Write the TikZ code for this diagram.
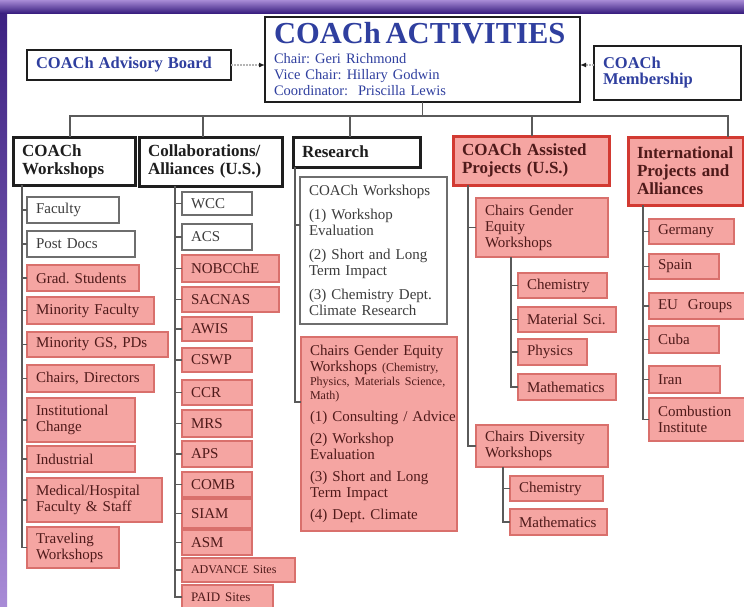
\documentclass[tikz,border=0pt]{standalone}
\usepackage{fontspec}
\setmainfont{Liberation Serif}
\usetikzlibrary{arrows.meta,calc}
\definecolor{ink}{HTML}{1E1E1E}
\definecolor{coachblue}{HTML}{2F3F9F}
\definecolor{pinkfill}{HTML}{F5A5A2}
\definecolor{pinkline}{HTML}{D9706C}
\definecolor{redline}{HTML}{D23A32}
\definecolor{maroon}{HTML}{4F1A1A}
\definecolor{greyline}{HTML}{6E6E6E}
\definecolor{greytext}{HTML}{3C3C3C}
\definecolor{wirec}{HTML}{5A5A5A}
\definecolor{plumdark}{HTML}{3A1F80}
\definecolor{plumlight}{HTML}{A88BD6}

\frenchspacing
\newcommand{\kidfont}{\fontsize{15}{16}\selectfont}
\newcommand{\hdfont}{\fontsize{17}{18}\selectfont\bfseries}
\newcommand{\topfont}{\fontsize{16.5}{18}\selectfont\bfseries}
\newcommand{\titlefont}{\fontsize{30.5}{32}\selectfont\bfseries}
\newcommand{\subfont}{\fontsize{14.5}{16}\selectfont}
\newcommand{\tinyfont}{\fontsize{12}{13}\selectfont}
\newcommand{\smallfont}{\fontsize{13}{14}\selectfont}
\def\bpad{9}
% box from its pixel corners: style, name, left, top, right, bottom, text
\newcommand{\placebox}[7]{%
  \pgfmathsetmacro{\boxw}{#5-#3-2*\bpad}%
  \pgfmathsetmacro{\boxh}{#6-#4}%
  \node[#1, anchor=north west, outer sep=0pt, inner xsep=\bpad pt,
        text width=\boxw pt, minimum height=\boxh pt] (#2) at (#3,#4) {#7};%
}

\begin{document}
\begin{tikzpicture}[
    x=1pt, y=-1pt,
    font=\kidfont,
    topbox/.style={draw=ink, line width=2.6pt, fill=white, text=coachblue, inner ysep=1pt, align=left},
    hdbox/.style={draw=ink, line width=3pt, fill=white, text=ink, font=\hdfont, inner ysep=2pt, align=left},
    hdred/.style={hdbox, draw=redline, fill=pinkfill, text=maroon},
    kidw/.style={draw=greyline, line width=1.1pt, fill=white, text=greytext, font=\kidfont, inner ysep=1pt, align=left},
    kidp/.style={kidw, draw=pinkline, fill=pinkfill, text=maroon},
    wire/.style={line width=1.4pt, color=wirec},
    feed/.style={line width=1.6pt, color=wirec!45, dash pattern=on 2pt off 1pt,
                 -{Latex[length=6pt,width=5pt,color=ink]}}
  ]

% ---------------- frame ----------------
\useasboundingbox (0,0) rectangle (744,606);
\fill[white] (0,0) rectangle (744,606);
\shade[top color=plumdark, bottom color=plumlight] (0,0) rectangle (7,606);
\shade[top color=plumlight, bottom color=plumdark] (0,0) rectangle (744,13);

% ---------------- top row ----------------
\placebox{topbox}{act}{265}{17}{580}{102}
  {{\titlefont COACh ACTIVITIES}\\[4pt] {\subfont Chair: Geri Richmond\\ Vice Chair: Hillary Godwin\\ Coordinator:\ \ Priscilla Lewis}}
\placebox{topbox}{adv}{27}{50}{231}{80}{\topfont COACh Advisory Board}
\placebox{topbox}{mem}{594}{46}{741}{100}{\topfont COACh\\Membership}

\draw[feed] (adv.east) -- (adv.east -| act.west);
\draw[feed] (mem.west |- adv.east) -- (act.east |- adv.east);

% ---------------- column headers ----------------
\placebox{hdbox}{hw}{13}{137}{135}{185}{COACh\\Workshops}
\placebox{hdbox}{hc}{139}{137}{282}{186}{Collaborations/\\Alliances (U.S.)}
\placebox{hdbox}{hr}{293}{137}{420}{167}{Research}
\placebox{hdred}{ha}{453}{136}{609}{185}{COACh Assisted\\Projects (U.S.)}
\placebox{hdred}{hi}{628}{137}{743}{205}{International\\Projects and\\Alliances}

\foreach \h/\dx in {hw/57, hc/64, hr/57, ha/79, hi/100}
  \draw[wire] (act.south) -- ++(0,14) -| ([xshift=\dx pt]\h.north west);

% ---------------- COACh workshops ----------------
\placebox{kidw}{w1}{27}{197}{119}{223}{Faculty}
\placebox{kidw}{w2}{27}{231}{135}{257}{Post Docs}
\placebox{kidp}{w3}{27}{265}{139}{291}{Grad. Students}
\placebox{kidp}{w4}{27}{297}{154}{324}{Minority Faculty}
\placebox{kidp}{w5}{27}{332}{168}{357}{Minority GS, PDs}
\placebox{kidp}{w6}{27}{365}{154}{392}{Chairs, Directors}
\placebox{kidp}{w7}{27}{398}{135}{442}{Institutional\\Change}
\placebox{kidp}{w8}{27}{446}{135}{472}{Industrial}
\placebox{kidp}{w9}{27}{478}{162}{522}{Medical/Hospital\\Faculty \& Staff}
\placebox{kidp}{w10}{27}{527}{119}{568}{Traveling\\Workshops}

\coordinate (tw) at (22,0);
\foreach \k in {1,...,10}
  \draw[wire] (hw.south -| tw) |- (w\k.west);

% ---------------- collaborations ----------------
\placebox{kidw}{c1}{182}{192}{252}{215}{WCC}
\placebox{kidw}{c2}{182}{224}{252}{250}{ACS}
\placebox{kidp}{c3}{182}{255}{279}{282}{NOBCChE}
\placebox{kidp}{c4}{182}{287}{279}{312}{SACNAS}
\placebox{kidp}{c5}{182}{317}{252}{341}{AWIS}
\placebox{kidp}{c6}{182}{348}{252}{372}{CSWP}
\placebox{kidp}{c7}{182}{380}{252}{405}{CCR}
\placebox{kidp}{c8}{182}{410}{252}{437}{MRS}
\placebox{kidp}{c9}{182}{441}{252}{467}{APS}
\placebox{kidp}{c10}{182}{472}{252}{497}{COMB}
\placebox{kidp}{c11}{182}{499}{252}{528}{SIAM}
\placebox{kidp}{c12}{182}{530}{252}{555}{ASM}
\placebox{kidp}{c13}{182}{558}{295}{582}{\tinyfont ADVANCE Sites}
\placebox{kidp}{c14}{182}{585}{273}{609}{\smallfont PAID Sites}

\coordinate (tc) at (175,0);
\foreach \k in {1,...,14}
  \draw[wire] (hc.south -| tc) |- (c\k.west);

% ---------------- research ----------------
\placebox{kidw}{r1}{300}{177}{447}{324}
  {COACh Workshops\\[8pt] (1) Workshop\\ Evaluation\\[8pt] (2) Short and Long\\ Term Impact\\[8pt] (3) Chemistry Dept.\\ Climate Research}
\placebox{kidp}{r2}{301}{337}{457}{531}
  {Chairs Gender Equity\\ \mbox{Workshops {\tinyfont (Chemistry,}}\\[-2pt] \mbox{\tinyfont Physics, Materials Science,}\\[-2pt] {\tinyfont Math)}\\[6pt]
   \mbox{(1) Consulting / Advice}\\[6pt] (2) Workshop\\ Evaluation\\[6pt] (3) Short and Long\\ Term Impact\\[6pt] (4) Dept. Climate}

\coordinate (tr) at (295,0);
\draw[wire] (hr.south -| tr) |- ([yshift=-48pt]r1.north west);
\draw[wire] (hr.south -| tr) |- ([yshift=-65pt]r2.north west);

% ---------------- assisted projects ----------------
\placebox{kidp}{a1}{476}{198}{608}{257}{Chairs Gender\\Equity\\Workshops}
\placebox{kidp}{a2}{476}{425}{608}{467}{Chairs Diversity\\Workshops}
\placebox{kidp}{g1}{518}{273}{607}{298}{Chemistry}
\placebox{kidp}{g2}{518}{307}{616}{332}{Material Sci.}
\placebox{kidp}{g3}{518}{339}{587}{365}{Physics}
\placebox{kidp}{g4}{518}{374}{616}{400}{Mathematics}
\placebox{kidp}{d1}{510}{476}{603}{501}{Chemistry}
\placebox{kidp}{d2}{510}{509}{607}{535}{Mathematics}

\coordinate (ta) at (468,0);
\foreach \k in {a1,a2}
  \draw[wire] (ha.south -| ta) |- (\k.west);
\coordinate (tg) at (511,0);
\foreach \k in {1,...,4}
  \draw[wire] (a1.south -| tg) |- (g\k.west);
\coordinate (td) at (503,0);
\foreach \k in {1,2}
  \draw[wire] (a2.south -| td) |- (d\k.west);

% ---------------- international ----------------
\placebox{kidp}{i1}{649}{219}{734}{244}{Germany}
\placebox{kidp}{i2}{649}{254}{719}{279}{Spain}
\placebox{kidp}{i3}{649}{293}{752}{319}{EU\ \ Groups}
\placebox{kidp}{i4}{649}{326}{719}{353}{Cuba}
\placebox{kidp}{i5}{649}{366}{720}{393}{Iran}
\placebox{kidp}{i6}{649}{398}{752}{441}{Combustion\\Institute}

\coordinate (ti) at (643,0);
\foreach \k in {1,...,6}
  \draw[wire] (hi.south -| ti) |- (i\k.west);

\end{tikzpicture}
\end{document}
